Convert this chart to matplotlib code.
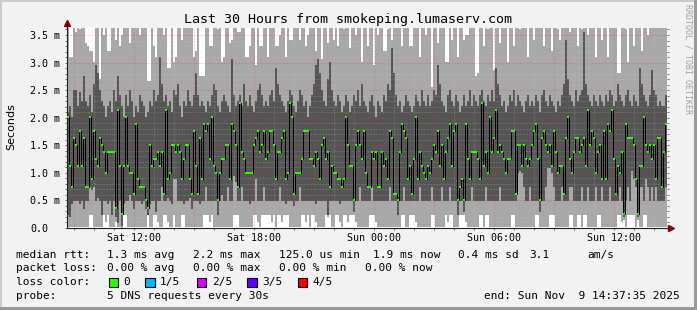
import numpy as np
import matplotlib
matplotlib.use('Agg')
import matplotlib.pyplot as plt
from matplotlib.patches import Rectangle

W, H = 697, 310

# time axis in hours counted from Sat 00:00, one column every 6 minutes
T_START = 8 + 37 / 60 + 35 / 3600
STEP = 0.1

# median rtt (ms), read column by column
MEDIAN = [
    2.01, 1.13, 0.75, 1.64, 1.51, 1.13, 1.76, 1.13, 1.64, 0.75, 0.75, 2.01, 0.88, 1.76, 1.26, 1.13, 1.64, 1.51, 1.38, 1.00,
    1.38, 1.38, 1.38, 1.38, 0.37, 2.14, 1.13, 0.25, 1.13, 2.01, 1.13, 1.00, 1.00, 0.62, 1.89, 0.88, 0.75, 0.75, 0.75, 0.50,
    0.37, 1.51, 1.13, 1.26, 1.26, 1.38, 1.13, 1.38, 0.62, 2.14, 0.88, 1.00, 1.51, 1.51, 1.38, 1.51, 1.38, 0.88, 1.26, 1.51,
    1.51, 0.88, 0.62, 1.76, 1.13, 0.62, 1.64, 0.88, 1.89, 1.76, 1.89, 1.26, 2.01, 1.13, 1.00, 0.50, 1.00, 1.26, 1.26, 1.51,
    1.51, 0.88, 1.89, 1.76, 1.51, 0.75, 2.27, 1.38, 1.26, 1.00, 1.00, 1.00, 1.00, 1.51, 1.64, 1.76, 1.38, 1.51, 1.76, 1.26,
    1.38, 1.76, 1.76, 1.51, 0.88, 1.38, 1.38, 1.64, 1.76, 0.88, 1.00, 2.27, 2.01, 0.62, 1.00, 1.00, 1.00, 1.26, 1.76, 1.76,
    1.76, 1.26, 1.26, 1.13, 1.38, 1.26, 0.88, 1.51, 1.64, 1.26, 1.38, 0.75, 1.13, 1.00, 1.00, 0.88, 0.88, 0.75, 0.88, 2.01,
    1.51, 1.13, 1.13, 0.50, 1.51, 1.76, 1.51, 1.26, 1.76, 1.00, 0.75, 0.75, 1.38, 1.26, 1.38, 0.75, 0.75, 1.38, 1.13, 1.26,
    0.88, 1.76, 1.64, 0.62, 0.62, 0.50, 1.38, 1.89, 1.76, 1.64, 0.88, 1.13, 0.62, 1.26, 2.01, 0.88, 1.38, 1.13, 1.00, 0.88,
    1.13, 1.00, 1.26, 1.51, 1.38, 1.76, 1.13, 1.51, 0.88, 1.38, 1.64, 1.89, 1.13, 1.76, 1.89, 0.50, 0.75, 0.88, 0.50, 1.89,
    1.26, 0.88, 1.38, 1.38, 1.38, 1.26, 0.88, 2.27, 1.13, 1.38, 1.00, 2.01, 1.38, 1.64, 2.14, 1.38, 1.51, 1.38, 1.26, 1.00,
    1.26, 1.26, 1.76, 1.76, 0.62, 1.51, 1.51, 1.13, 1.51, 1.26, 1.13, 1.26, 1.51, 1.76, 1.89, 1.26, 0.50, 1.64, 1.76, 1.51,
    1.38, 1.51, 1.13, 1.76, 1.38, 1.00, 1.13, 1.13, 0.62, 1.64, 2.01, 1.26, 1.00, 1.38, 1.64, 1.64, 1.38, 1.51, 1.64, 1.13,
    2.14, 1.51, 1.76, 1.64, 1.00, 1.38, 1.51, 0.88, 1.76, 0.88, 1.89, 1.76, 2.14, 1.26, 0.62, 1.13, 1.00, 1.38, 0.25, 1.89,
    1.64, 1.64, 1.64, 1.51, 0.88, 0.25, 1.13, 1.13, 2.01, 1.51, 1.38, 1.51, 1.26, 1.51, 0.88, 1.64, 1.64, 0.75, 1.38, 1.89,
]

# smoke: fastest, 2nd, 4th and slowest of the 5 requests (ms)
PING_MIN = [
    0.02, 0.02, 0.02, 0.02, 0.02, 0.02, 0.02, 0.02, 0.02, 0.02, 0.02, 0.25, 0.25, 0.02, 0.02, 0.02, 0.02, 0.02, 0.25, 0.12,
    0.25, 0.02, 0.02, 0.02, 0.12, 0.02, 0.02, 0.00, 0.25, 0.25, 0.02, 0.02, 0.02, 0.02, 0.02, 0.02, 0.02, 0.02, 0.02, 0.02,
    0.25, 0.02, 0.02, 0.25, 0.25, 0.12, 0.02, 0.02, 0.25, 0.25, 0.12, 0.02, 0.02, 0.25, 0.02, 0.02, 0.02, 0.25, 0.25, 0.02,
    0.02, 0.02, 0.02, 0.02, 0.02, 0.02, 0.02, 0.02, 0.25, 0.25, 0.25, 0.12, 0.25, 0.02, 0.02, 0.02, 0.02, 0.02, 0.02, 0.02,
    0.02, 0.02, 0.02, 0.25, 0.25, 0.25, 0.02, 0.02, 0.02, 0.02, 0.02, 0.02, 0.02, 0.25, 0.25, 0.12, 0.02, 0.25, 0.25, 0.25,
    0.25, 0.25, 0.12, 0.25, 0.02, 0.25, 0.25, 0.12, 0.25, 0.25, 0.25, 0.02, 0.02, 0.02, 0.02, 0.02, 0.02, 0.25, 0.25, 0.12,
    0.25, 0.02, 0.25, 0.25, 0.12, 0.02, 0.02, 0.02, 0.02, 0.25, 0.20, 0.25, 0.02, 0.02, 0.25, 0.25, 0.12, 0.02, 0.25, 0.25,
    0.12, 0.25, 0.25, 0.25, 0.12, 0.02, 0.02, 0.02, 0.02, 0.02, 0.02, 0.25, 0.25, 0.25, 0.12, 0.02, 0.02, 0.02, 0.02, 0.02,
    0.02, 0.02, 0.02, 0.02, 0.02, 0.02, 0.02, 0.25, 0.25, 0.02, 0.02, 0.25, 0.25, 0.25, 0.12, 0.02, 0.02, 0.02, 0.02, 0.02,
    0.02, 0.02, 0.25, 0.25, 0.02, 0.02, 0.02, 0.02, 0.02, 0.25, 0.12, 0.25, 0.25, 0.02, 0.02, 0.02, 0.25, 0.25, 0.25, 0.12,
    0.02, 0.02, 0.02, 0.02, 0.02, 0.02, 0.25, 0.25, 0.02, 0.25, 0.25, 0.02, 0.02, 0.02, 0.02, 0.02, 0.02, 0.02, 0.02, 0.02,
    0.02, 0.02, 0.25, 0.25, 0.02, 0.02, 0.02, 0.02, 0.02, 0.02, 0.02, 0.02, 0.02, 0.02, 0.25, 0.25, 0.02, 0.02, 0.02, 0.02,
    0.02, 0.25, 0.25, 0.25, 0.02, 0.02, 0.02, 0.02, 0.02, 0.02, 0.02, 0.25, 0.25, 0.02, 0.02, 0.25, 0.25, 0.02, 0.25, 0.25,
    0.02, 0.02, 0.02, 0.02, 0.02, 0.25, 0.25, 0.02, 0.02, 0.02, 0.02, 0.02, 0.02, 0.02, 0.02, 0.25, 0.25, 0.12, 0.15, 0.02,
    0.25, 0.25, 0.25, 0.25, 0.02, 0.15, 0.02, 0.02, 0.25, 0.25, 0.02, 0.02, 0.02, 0.02, 0.02, 0.02, 0.02, 0.02, 0.02, 0.02,
]

PING_LO = [
    0.25, 0.20, 0.45, 0.50, 0.50, 0.50, 0.45, 0.50, 0.35, 0.50, 0.50, 0.75, 0.70, 0.75, 0.50, 0.55, 0.50, 0.25, 0.50, 0.50,
    0.45, 0.50, 0.25, 0.50, 0.20, 0.10, 0.50, 0.05, 0.45, 0.50, 0.50, 0.60, 0.50, 0.35, 0.50, 0.50, 0.50, 0.45, 0.50, 0.35,
    0.25, 0.45, 0.50, 0.50, 0.30, 0.50, 0.50, 0.75, 0.50, 0.50, 0.55, 0.50, 0.45, 0.90, 0.90, 0.50, 0.50, 0.50, 0.45, 0.50,
    0.50, 0.55, 0.35, 0.50, 0.50, 0.50, 0.45, 0.50, 0.50, 0.75, 0.50, 0.50, 0.50, 0.50, 0.50, 0.25, 0.50, 0.60, 0.50, 0.50,
    0.75, 0.50, 0.50, 0.95, 0.85, 0.50, 0.50, 0.75, 0.50, 0.50, 0.50, 0.45, 0.50, 0.50, 0.90, 0.50, 0.50, 0.50, 0.75, 0.50,
    0.50, 0.50, 0.50, 0.50, 0.50, 0.50, 0.75, 0.50, 0.50, 0.45, 0.50, 0.50, 0.50, 0.40, 0.50, 0.50, 0.75, 0.50, 0.50, 0.50,
    0.50, 0.50, 0.50, 0.50, 0.45, 0.50, 0.50, 0.50, 0.50, 0.50, 0.25, 0.50, 0.50, 0.50, 0.50, 0.50, 0.45, 0.50, 0.50, 0.50,
    0.50, 0.50, 0.50, 0.30, 0.50, 0.50, 0.75, 0.50, 0.50, 0.50, 0.50, 0.50, 0.75, 0.50, 0.50, 0.50, 0.50, 0.50, 0.50, 0.50,
    0.50, 0.75, 0.50, 0.50, 0.50, 0.25, 0.50, 0.50, 0.75, 0.50, 0.50, 0.50, 0.50, 0.50, 0.50, 0.50, 0.75, 0.50, 0.50, 0.50,
    0.50, 0.50, 0.75, 0.50, 0.50, 0.50, 0.50, 0.75, 0.50, 0.50, 0.50, 0.75, 0.50, 0.50, 0.50, 0.25, 0.50, 0.50, 0.30, 0.50,
    0.50, 0.50, 0.75, 0.50, 0.50, 0.50, 0.50, 0.50, 0.50, 0.75, 0.50, 0.50, 0.50, 0.50, 0.50, 0.50, 0.75, 0.50, 0.50, 0.50,
    0.50, 0.50, 0.50, 0.50, 0.50, 1.00, 1.05, 1.00, 0.75, 0.50, 0.50, 0.75, 0.50, 0.50, 0.50, 0.50, 0.30, 0.50, 0.50, 0.75,
    1.10, 1.10, 1.00, 0.75, 0.50, 0.50, 0.50, 0.75, 0.50, 0.50, 0.50, 0.75, 0.75, 0.50, 0.50, 0.50, 0.50, 0.75, 0.50, 0.50,
    0.75, 0.50, 0.50, 0.50, 0.75, 0.50, 0.50, 0.75, 0.50, 0.50, 0.50, 0.75, 0.50, 0.50, 0.50, 0.50, 0.75, 0.50, 0.20, 0.50,
    0.75, 0.50, 1.05, 0.90, 0.75, 0.20, 0.75, 0.75, 0.50, 0.90, 0.75, 0.50, 0.75, 0.50, 0.75, 0.50, 0.50, 0.50, 0.50, 0.75,
]

PING_HI = [
    2.10, 2.20, 2.00, 2.50, 2.50, 2.20, 2.45, 2.30, 2.75, 2.30, 2.20, 2.40, 2.10, 2.60, 2.95, 2.80, 2.50, 2.30, 2.20, 2.00,
    2.20, 2.30, 2.10, 2.50, 2.30, 2.75, 2.40, 2.20, 2.00, 2.40, 2.20, 2.50, 2.30, 2.00, 2.20, 2.10, 2.40, 2.30, 2.20, 2.00,
    2.10, 2.30, 2.20, 2.50, 2.30, 2.40, 3.10, 2.60, 2.30, 2.40, 2.20, 2.30, 2.10, 2.50, 2.40, 2.60, 2.20, 2.00, 2.30, 2.20,
    2.50, 2.30, 2.20, 2.40, 2.80, 2.40, 2.20, 2.30, 2.20, 2.10, 2.30, 2.20, 2.40, 2.60, 2.50, 2.20, 2.10, 2.30, 2.40, 2.30,
    2.20, 2.10, 3.05, 2.40, 2.20, 2.30, 2.40, 2.20, 2.60, 2.30, 2.20, 2.40, 2.20, 2.10, 2.30, 2.50, 2.60, 2.40, 2.20, 2.30,
    2.20, 2.40, 2.50, 2.30, 2.90, 2.60, 2.40, 2.30, 2.20, 2.10, 2.30, 2.50, 2.40, 2.20, 2.10, 2.30, 2.50, 2.40, 2.20, 2.30,
    2.00, 2.20, 2.40, 2.60, 2.95, 3.05, 2.80, 2.50, 2.30, 2.20, 2.70, 3.00, 2.50, 2.30, 2.20, 2.40, 2.30, 2.10, 2.20, 2.40,
    2.30, 2.10, 2.20, 2.40, 2.30, 2.50, 2.20, 2.60, 2.30, 2.20, 2.10, 2.30, 2.40, 2.20, 2.00, 2.30, 2.20, 2.10, 2.40, 2.30,
    2.60, 2.50, 3.25, 2.80, 2.40, 2.20, 2.30, 2.10, 2.20, 2.40, 2.30, 2.20, 2.10, 2.20, 2.40, 2.30, 2.20, 2.50, 2.30, 2.20,
    2.40, 2.20, 2.30, 2.50, 2.40, 2.95, 2.60, 2.30, 2.20, 2.10, 2.40, 2.50, 2.30, 2.20, 2.40, 2.30, 2.10, 2.20, 2.40, 2.20,
    2.30, 2.50, 2.20, 2.40, 2.30, 2.20, 2.40, 2.50, 2.30, 2.20, 2.40, 2.30, 2.50, 2.30, 2.90, 2.60, 2.40, 2.20, 2.30, 2.10,
    2.20, 2.40, 2.30, 2.50, 2.20, 2.40, 2.30, 2.20, 2.10, 2.30, 2.40, 2.20, 2.30, 2.20, 2.40, 2.30, 2.10, 2.40, 2.50, 2.30,
    2.20, 2.40, 2.30, 2.20, 2.10, 2.30, 2.20, 2.40, 2.60, 3.40, 2.70, 2.40, 2.30, 2.20, 2.50, 2.30, 2.40, 2.50, 3.55, 2.60,
    2.40, 2.30, 2.20, 2.40, 2.30, 2.20, 2.40, 2.30, 2.20, 2.40, 2.30, 2.50, 2.40, 2.20, 2.30, 2.60, 2.40, 2.30, 2.20, 2.40,
    2.50, 2.30, 2.20, 2.40, 2.30, 2.20, 2.90, 2.60, 2.40, 2.30, 2.20, 2.40, 2.85, 2.50, 2.40, 2.20, 2.30, 2.20, 2.20, 2.40,
]

PING_MAX = [
    3.70, 3.10, 3.10, 3.70, 3.55, 3.70, 3.60, 3.70, 3.70, 3.35, 3.30, 3.20, 3.20, 3.00, 3.70, 3.70, 2.70, 3.70, 3.50, 3.70,
    3.20, 3.20, 3.70, 3.70, 3.40, 3.70, 3.30, 3.50, 3.70, 3.70, 3.70, 3.35, 3.70, 3.70, 3.70, 3.70, 3.50, 3.70, 3.70, 3.70,
    2.65, 2.65, 3.70, 3.30, 3.10, 3.70, 3.70, 3.70, 3.50, 3.70, 2.90, 2.90, 3.70, 3.00, 3.10, 3.70, 3.70, 3.40, 3.70, 3.70,
    3.70, 3.70, 3.70, 3.10, 3.20, 3.70, 2.75, 2.75, 2.75, 3.70, 3.70, 3.30, 3.30, 3.70, 3.70, 3.60, 3.70, 3.00, 3.10, 3.70,
    3.70, 3.35, 3.40, 3.70, 3.70, 3.55, 3.55, 3.70, 3.70, 3.10, 3.10, 3.30, 3.70, 3.70, 2.95, 3.70, 3.30, 3.30, 3.70, 3.70,
    3.10, 3.70, 3.70, 3.70, 3.30, 3.30, 3.50, 3.70, 3.70, 3.10, 3.70, 3.40, 3.40, 3.70, 3.70, 3.70, 3.40, 3.70, 3.70, 3.30,
    3.50, 3.70, 3.70, 3.70, 3.20, 3.70, 3.70, 3.05, 3.70, 3.70, 3.35, 3.70, 3.70, 3.40, 3.70, 3.30, 3.70, 3.70, 3.60, 3.70,
    3.70, 3.25, 3.70, 3.70, 3.50, 3.70, 3.70, 3.00, 3.70, 3.70, 3.30, 3.70, 3.70, 2.95, 3.70, 3.50, 3.70, 3.70, 3.20, 3.20,
    3.60, 3.70, 3.40, 3.70, 3.70, 3.70, 3.70, 3.30, 3.70, 3.70, 3.70, 3.30, 3.30, 3.70, 3.70, 3.70, 3.10, 3.70, 3.70, 3.50,
    3.70, 3.70, 2.55, 3.70, 3.70, 3.35, 3.70, 3.70, 3.70, 3.00, 3.00, 3.70, 3.40, 3.70, 3.70, 3.10, 3.70, 3.70, 3.40, 3.50,
    3.50, 3.70, 3.70, 3.70, 2.75, 2.80, 3.70, 3.70, 3.30, 3.70, 3.60, 3.70, 3.70, 2.85, 3.70, 3.70, 3.35, 3.70, 3.70, 3.70,
    3.00, 3.70, 3.70, 3.30, 3.70, 3.70, 3.60, 3.70, 3.70, 3.70, 3.10, 3.70, 3.70, 3.40, 3.70, 3.70, 3.70, 3.70, 3.30, 3.70,
    3.70, 3.70, 3.20, 3.70, 3.70, 3.60, 3.40, 3.70, 3.70, 3.70, 3.70, 3.55, 3.70, 3.70, 3.70, 3.30, 3.70, 3.60, 3.70, 3.70,
    3.50, 3.70, 3.70, 3.70, 3.10, 3.70, 3.70, 3.40, 3.70, 3.70, 3.10, 3.70, 3.70, 3.70, 3.70, 2.80, 2.80, 3.70, 3.70, 3.60,
    3.00, 3.70, 3.70, 3.30, 3.70, 3.70, 3.70, 3.20, 3.70, 3.70, 3.50, 3.70, 3.70, 3.70, 3.70, 3.70, 3.70, 3.70, 3.70, 3.70,
]

X_TICKS = [9, 12, 15, 18, 21, 24, 27, 30, 33, 36]
X_LABELS = ['', 'Sat 12:00', '', 'Sat 18:00', '', 'Sun 00:00', '', 'Sun 06:00', '', 'Sun 12:00']
Y_TICKS = [0.0, 0.5, 1.0, 1.5, 2.0, 2.5, 3.0, 3.5]
Y_LABELS = ['0.0', '0.5 m', '1.0 m', '1.5 m', '2.0 m', '2.5 m', '3.0 m', '3.5 m']
Y_TOP = 3.627

TITLE = 'Last 30 Hours from smokeping.lumaserv.com'
RTT_STATS = ['median rtt:', '1.3 ms avg', '2.2 ms max', '125.0 us min', '1.9 ms now', '0.4 ms sd', '3.1', 'am/s']
LOSS_STATS = ['packet loss:', '0.00 % avg', '0.00 % max', '0.00 % min', '0.00 % now']
LOSS_LABELS = ['0', '1/5', '2/5', '3/5', '4/5']
LOSS_COLORS = ['#26ff00', '#00b8ff', '#d800ff', '#5e00ff', '#ff0000']
PROBE = ['probe:', '5 DNS requests every 30s']
END_STAMP = 'end: Sun Nov  9 14:37:35 2025'

plt.rcParams['font.family'] = ['DejaVu Sans Mono']

fig = plt.figure(figsize=(W / 100, H / 100), dpi=100, facecolor='#f2f2f2')
ax = fig.add_axes([67 / W, 1 - 228 / H, 600 / W, 200 / H])
ax.set_facecolor('white')

edges = T_START + STEP * np.arange(len(MEDIAN) + 1)
med = np.array(MEDIAN)

# smoke: outer pair light, inner pair dark
ax.stairs(PING_MAX, edges, baseline=PING_MIN, fill=True, color='#a8a8a8',
          lw=0, antialiased=False, zorder=1)
ax.stairs(PING_HI, edges, baseline=PING_LO, fill=True, color='#555555',
          lw=0, antialiased=False, zorder=1.1)

# median: thin black risers, green steps
ax.vlines(edges[1:-1], med[:-1], med[1:], colors='#000000', lw=0.55,
          antialiased=False, zorder=3)
ax.hlines(med, edges[:-1], edges[1:], colors=LOSS_COLORS[0], lw=1.4,
          antialiased=False, zorder=4)

ax.set_xlim(edges[0], edges[-1])
ax.set_ylim(0, Y_TOP)
ax.set_xticks(X_TICKS, X_LABELS)
ax.set_xticks(np.arange(9, 39), minor=True)
ax.set_yticks(Y_TICKS, Y_LABELS)
ax.set_yticks(np.arange(0, 3.65, 0.1), minor=True)

ax.grid(which='minor', color='#c8c8c8', alpha=0.4, ls=(0, (1, 2)), lw=0.72)
ax.grid(which='major', color='#ff3030', alpha=0.45, ls=(0, (1, 2)), lw=0.72)

for s in ['top', 'right']:
    ax.spines[s].set_visible(False)
for s in ['left', 'bottom']:
    ax.spines[s].set_color('#202020')
    ax.spines[s].set_linewidth(0.8)

ax.tick_params(axis='both', which='both', direction='out', length=1.5,
               width=0.7, color='#707070', labelsize=7.2)
ax.tick_params(axis='y', which='both', right=True, pad=25.1)
ax.tick_params(axis='x', pad=2.2)
for lbl in ax.get_yticklabels():
    lbl.set_horizontalalignment('left')

# axis arrows
ax.plot([0, 0], [1, 1.025], transform=ax.transAxes, color='#202020', lw=0.8, clip_on=False)
ax.plot([0], [1.025], marker='^', ms=4.5, color='#7f0000', transform=ax.transAxes, clip_on=False)
ax.plot([1, 1.006], [0, 0], transform=ax.transAxes, color='#202020', lw=0.8, clip_on=False)
ax.plot([1.007], [0], marker='>', ms=4.5, color='#7f0000', transform=ax.transAxes, clip_on=False)

fig.text(0.5, 1 - 20 / H, TITLE, ha='center', va='center', fontsize=9.6)
fig.text(11 / W, 1 - 127 / H, 'Seconds', rotation=90, ha='center', va='center',
         fontsize=8, family='DejaVu Sans')
fig.text(688 / W, 1 - 4 / H, 'RRDTOOL / TOBI OETIKER', rotation=270, ha='center',
         va='top', fontsize=6, color='#a0a0a0')

# legend block
fs = 8.0
row_y = [254.7, 268.0, 282.3, 296.0]
for txt, x in zip(RTT_STATS, [16, 107, 193, 279, 373, 458, 529, 587]):
    fig.text(x / W, 1 - row_y[0] / H, txt, ha='left', va='center', fontsize=fs)
for txt, x in zip(LOSS_STATS, [16, 107, 193, 279, 365]):
    fig.text(x / W, 1 - row_y[1] / H, txt, ha='left', va='center', fontsize=fs)
fig.text(16 / W, 1 - row_y[2] / H, 'loss color:', ha='left', va='center', fontsize=fs)
for lab, col, bx, tx in zip(LOSS_LABELS, LOSS_COLORS,
                            [108.7, 145.3, 196.7, 247.3, 297.7],
                            [123, 160, 211.7, 262.3, 312.7]):
    fig.add_artist(Rectangle((bx / W, 1 - 287.3 / H), 9.5 / W, 9.5 / H,
                             transform=fig.transFigure, facecolor=col,
                             edgecolor='black', lw=0.8))
    fig.text(tx / W, 1 - row_y[2] / H, lab, ha='left', va='center', fontsize=fs)
for txt, x in zip(PROBE, [16, 107]):
    fig.text(x / W, 1 - row_y[3] / H, txt, ha='left', va='center', fontsize=fs)
fig.text(680 / W, 1 - row_y[3] / H, END_STAMP, ha='right', va='center', fontsize=fs)

# shaded frame
fig.add_artist(Rectangle((0, 1 - 2 / H), 1, 2 / H, transform=fig.transFigure, color='#cbcbcb', lw=0))
fig.add_artist(Rectangle((0, 0), 2 / W, 1, transform=fig.transFigure, color='#cbcbcb', lw=0))
fig.add_artist(Rectangle((0, 0), 1, 3 / H, transform=fig.transFigure, color='#999999', lw=0))
fig.add_artist(Rectangle((1 - 3 / W, 0), 3 / W, 1, transform=fig.transFigure, color='#999999', lw=0))

fig.savefig('out.png', dpi=100, facecolor=fig.get_facecolor())
